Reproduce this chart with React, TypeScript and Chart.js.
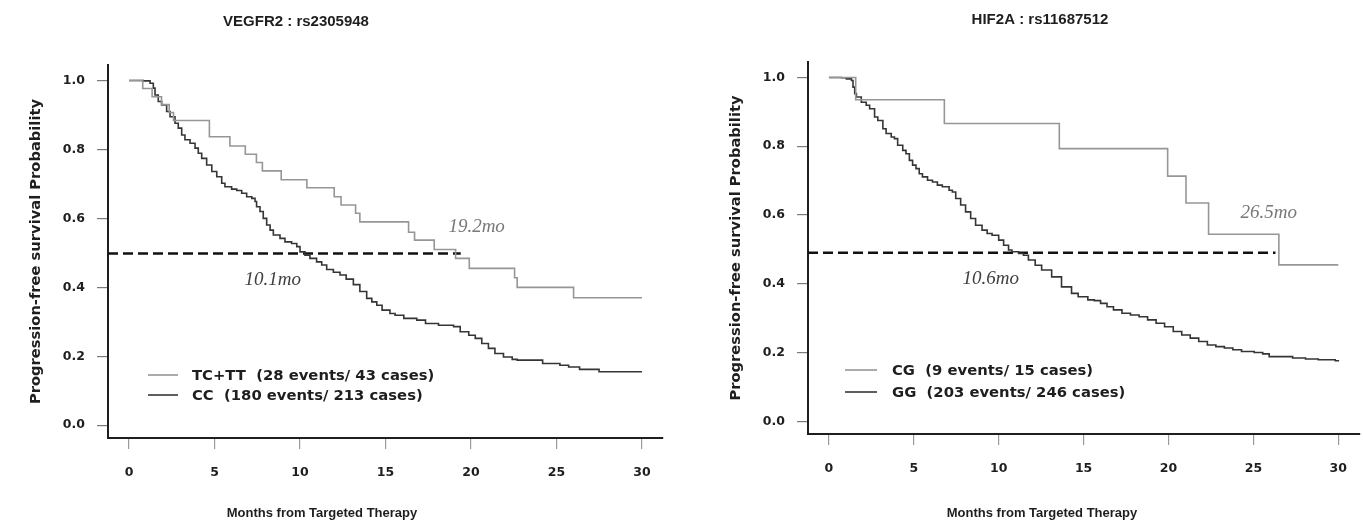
import React, { useEffect, useRef } from "react";
import { Chart, registerables } from "chart.js";

Chart.register(...registerables);

// ---------- shared axis settings ----------
const xMin = -1.23;
const xMax = 31.23;
const yMin = -0.037;
const yMax = 1.045;
const xTickStep = 5;
const yTickStep = 0.2;
const xAxisTitle = "Months from Targeted Therapy";
const yAxisTitle = "Progression-free survival Probability";

// ---------- left panel: VEGFR2 ----------
const leftTitle = "VEGFR2 : rs2305948";
const leftGrayLabel = "TC+TT  (28 events/ 43 cases)";
const leftGrayT = [0, 0.8, 1.35, 1.9, 2.35, 2.6, 4.7, 5.9, 6.8, 7.45, 7.8, 8.9, 10.4, 12.0, 12.4, 13.25, 13.5, 16.35, 16.7, 17.85, 19.1, 19.9, 22.55, 22.7, 26.0, 30.0];
const leftGrayS = [1, 0.977, 0.953, 0.93, 0.907, 0.884, 0.837, 0.81, 0.786, 0.762, 0.738, 0.712, 0.689, 0.663, 0.639, 0.615, 0.59, 0.56, 0.537, 0.51, 0.484, 0.455, 0.428, 0.4, 0.37, 0.37];
const leftDarkLabel = "CC  (180 events/ 213 cases)";
const leftDarkT = [0, 0.84, 1.23, 1.42, 1.52, 1.71, 1.91, 2.2, 2.4, 2.69, 2.88, 3.08, 3.27, 3.57, 3.86, 4.05, 4.25, 4.54, 4.84, 5.13, 5.42, 5.61, 6.0, 6.3, 6.59, 6.88, 7.18, 7.37, 7.46, 7.66, 7.85, 8.05, 8.25, 8.44, 8.83, 9.12, 9.51, 9.81, 10.0, 10.29, 10.58, 10.97, 11.27, 11.56, 11.95, 12.34, 12.7, 13.12, 13.5, 13.9, 14.2, 14.49, 14.8, 15.26, 15.56, 16.07, 16.83, 17.34, 18.1, 18.98, 19.37, 19.87, 20.25, 20.63, 21.02, 21.4, 21.9, 22.41, 22.7, 24.19, 25.2, 25.71, 26.35, 27.49, 30.0];
const leftDarkS = [1, 0.999, 0.992, 0.978, 0.958, 0.939, 0.929, 0.91, 0.895, 0.876, 0.862, 0.842, 0.828, 0.818, 0.804, 0.789, 0.774, 0.755, 0.736, 0.721, 0.702, 0.692, 0.685, 0.681, 0.673, 0.663, 0.658, 0.649, 0.634, 0.62, 0.6, 0.581, 0.566, 0.552, 0.542, 0.532, 0.527, 0.518, 0.503, 0.493, 0.484, 0.474, 0.465, 0.452, 0.444, 0.436, 0.424, 0.408, 0.388, 0.368, 0.358, 0.348, 0.334, 0.324, 0.319, 0.31, 0.305, 0.295, 0.29, 0.286, 0.271, 0.261, 0.252, 0.237, 0.223, 0.208, 0.198, 0.191, 0.189, 0.179, 0.174, 0.169, 0.162, 0.155, 0.155];
const leftMedianT = [xMin, 19.4];
const leftMedianS = [0.498, 0.498];
const leftNoteText = ["19.2mo", "10.1mo"];
const leftNoteT = [20.33, 8.4];
const leftNoteS = [0.575, 0.421];

// ---------- right panel: HIF2A ----------
const rightTitle = "HIF2A : rs11687512";
const rightGrayLabel = "CG  (9 events/ 15 cases)";
const rightGrayT = [0, 1.58, 6.8, 13.57, 19.95, 21.03, 22.36, 26.5, 30.0];
const rightGrayS = [1, 0.935, 0.866, 0.793, 0.713, 0.635, 0.544, 0.455, 0.455];
const rightDarkLabel = "GG  (203 events/ 246 cases)";
const rightDarkT = [0, 0.74, 1.03, 1.33, 1.42, 1.52, 1.62, 1.91, 2.2, 2.4, 2.69, 2.88, 3.18, 3.37, 3.67, 3.86, 4.05, 4.35, 4.54, 4.74, 4.93, 5.13, 5.32, 5.51, 5.81, 6.1, 6.39, 6.68, 7.08, 7.27, 7.47, 7.76, 8.05, 8.35, 8.64, 9.02, 9.32, 9.61, 10.0, 10.29, 10.58, 10.78, 11.17, 11.46, 11.75, 12.15, 12.53, 13.12, 13.7, 14.29, 14.68, 15.25, 15.63, 16.0, 16.38, 16.76, 17.26, 17.76, 18.27, 18.77, 19.27, 19.77, 20.28, 20.78, 21.28, 21.78, 22.29, 22.79, 23.29, 23.79, 24.3, 25.05, 25.55, 25.93, 27.31, 28.07, 28.82, 29.82, 30.0];
const rightDarkS = [1, 0.999, 0.996, 0.991, 0.972, 0.953, 0.943, 0.928, 0.919, 0.909, 0.885, 0.875, 0.851, 0.837, 0.827, 0.822, 0.803, 0.788, 0.778, 0.759, 0.745, 0.735, 0.72, 0.711, 0.701, 0.696, 0.687, 0.682, 0.672, 0.667, 0.648, 0.629, 0.609, 0.59, 0.57, 0.556, 0.546, 0.541, 0.527, 0.512, 0.498, 0.493, 0.488, 0.483, 0.469, 0.454, 0.44, 0.42, 0.391, 0.372, 0.362, 0.353, 0.351, 0.343, 0.333, 0.324, 0.314, 0.309, 0.304, 0.295, 0.285, 0.275, 0.261, 0.251, 0.242, 0.232, 0.222, 0.217, 0.213, 0.208, 0.203, 0.2, 0.196, 0.188, 0.184, 0.181, 0.179, 0.176, 0.174];
const rightMedianT = [xMin, 26.3];
const rightMedianS = [0.49, 0.49];
const rightNoteText = ["26.5mo", "10.6mo"];
const rightNoteT = [25.9, 9.53];
const rightNoteS = [0.607, 0.414];

const GRAY = "#969696";
const DARK = "#353535";
const INK = "#1e1e1e";
const SANS = "'DejaVu Sans', Verdana, sans-serif";
const ARIAL = "'Liberation Sans', Arial, sans-serif";
const SERIF = "'Liberation Serif', 'Times New Roman', serif";

const zip = (t: number[], s: number[]) => t.map((x, i) => ({ x, y: s[i] }));

type PanelCfg = {
  title: string;
  titleX: number;
  titleY: number;
  xTitleX: number;
  grayLabel: string;
  darkLabel: string;
  grayT: number[];
  grayS: number[];
  darkT: number[];
  darkS: number[];
  medT: number[];
  medS: number[];
  noteText: string[];
  noteT: number[];
  noteS: number[];
  noteColors: string[];
  padLeft: number;
  padRight: number;
  padTop: number;
  yWidth: number;
  xHeight: number;
  legendLine: [number, number];
  legendTextDx: number;
  legendRows: [number, number];
};

const decorPlugin = {
  id: "kmDecor",
  afterDraw(chart: any, _args: any, opts: any) {
    const ctx = chart.ctx;
    const ca = chart.chartArea;
    const xs = chart.scales.x;
    const ys = chart.scales.y;
    const cfg: PanelCfg = opts.cfg;
    ctx.save();
    // title
    ctx.fillStyle = INK;
    ctx.textAlign = "center";
    ctx.textBaseline = "middle";
    ctx.font = `bold 15px ${ARIAL}`;
    ctx.fillText(cfg.title, cfg.titleX, cfg.titleY);
    // x axis title
    ctx.font = `bold 13px ${ARIAL}`;
    ctx.fillText(xAxisTitle, cfg.xTitleX, 513);
    // legend
    const labels = [cfg.grayLabel, cfg.darkLabel];
    const colors = [GRAY, DARK];
    ctx.font = `bold 14.8px ${SANS}`;
    ctx.textAlign = "left";
    labels.forEach((lab, i) => {
      const y = ca.bottom - cfg.legendRows[i];
      ctx.strokeStyle = colors[i];
      ctx.lineWidth = 1.6;
      ctx.beginPath();
      ctx.moveTo(ca.left + cfg.legendLine[0], y);
      ctx.lineTo(ca.left + cfg.legendLine[1], y);
      ctx.stroke();
      ctx.fillStyle = INK;
      ctx.fillText(lab, ca.left + cfg.legendTextDx, y + 1);
    });
    // median annotations
    ctx.font = `italic 19px ${SERIF}`;
    ctx.textAlign = "center";
    cfg.noteText.forEach((txt, i) => {
      ctx.fillStyle = cfg.noteColors[i];
      ctx.fillText(txt, xs.getPixelForValue(cfg.noteT[i]), ys.getPixelForValue(cfg.noteS[i]));
    });
    ctx.restore();
  },
};

function makeConfig(cfg: PanelCfg): any {
  return {
    type: "line",
    data: {
      datasets: [
        {
          label: cfg.grayLabel,
          data: zip(cfg.grayT, cfg.grayS),
          borderColor: GRAY,
          borderWidth: 1.6,
          pointRadius: 0,
          stepped: true,
          fill: false,
        },
        {
          label: cfg.darkLabel,
          data: zip(cfg.darkT, cfg.darkS),
          borderColor: DARK,
          borderWidth: 1.6,
          pointRadius: 0,
          stepped: true,
          fill: false,
        },
        {
          label: "median",
          data: zip(cfg.medT, cfg.medS),
          borderColor: "#111111",
          borderWidth: 2.6,
          borderDash: [10, 5],
          pointRadius: 0,
          fill: false,
        },
      ],
    },
    options: {
      animation: false,
      responsive: false,
      devicePixelRatio: 1,
      layout: { padding: { left: cfg.padLeft, right: cfg.padRight, top: cfg.padTop, bottom: 0 } },
      plugins: {
        legend: { display: false },
        tooltip: { enabled: false },
        title: { display: false },
        kmDecor: { cfg },
      },
      scales: {
        x: {
          type: "linear",
          min: xMin,
          max: xMax,
          afterFit: (s: any) => {
            s.height = cfg.xHeight;
          },
          ticks: {
            stepSize: xTickStep,
            includeBounds: false,
            color: INK,
            padding: 16,
            font: { family: SANS, size: 12.5, weight: "bold" },
            callback: (v: number) => String(Math.round(v)),
            maxRotation: 0,
          },
          grid: {
            display: true,
            drawOnChartArea: false,
            drawTicks: true,
            tickLength: 11,
            color: "#9a9a9a",
            lineWidth: 1.2,
          },
          border: { display: true, color: INK, width: 2 },
          title: { display: false },
        },
        y: {
          type: "linear",
          min: yMin,
          max: yMax,
          afterFit: (s: any) => {
            s.width = cfg.yWidth;
          },
          ticks: {
            stepSize: yTickStep,
            includeBounds: false,
            color: INK,
            padding: 12,
            font: { family: SANS, size: 12.5, weight: "bold" },
            callback: (v: number) => v.toFixed(1),
          },
          grid: {
            display: true,
            drawOnChartArea: false,
            drawTicks: true,
            tickLength: 11,
            color: "#7a7a7a",
            lineWidth: 1.2,
          },
          border: { display: true, color: INK, width: 2 },
          title: {
            display: true,
            text: yAxisTitle,
            color: INK,
            padding: { top: 0, bottom: 0 },
            font: { family: SANS, size: 14.7, weight: "bold" },
          },
        },
      },
    },
    plugins: [decorPlugin],
  };
}

const leftCfg: PanelCfg = {
  title: leftTitle,
  titleX: 296,
  titleY: 22,
  xTitleX: 322,
  grayLabel: leftGrayLabel,
  darkLabel: leftDarkLabel,
  grayT: leftGrayT,
  grayS: leftGrayS,
  darkT: leftDarkT,
  darkS: leftDarkS,
  medT: leftMedianT,
  medS: leftMedianS,
  noteText: leftNoteText,
  noteT: leftNoteT,
  noteS: leftNoteS,
  noteColors: ["#787878", "#404040"],
  padLeft: 27,
  padRight: 27,
  padTop: 65,
  yWidth: 81,
  xHeight: 85,
  legendLine: [40, 70],
  legendTextDx: 84,
  legendRows: [63, 43],
};

const rightCfg: PanelCfg = {
  title: rightTitle,
  titleX: 1040 - 690,
  titleY: 20,
  xTitleX: 1042 - 690,
  grayLabel: rightGrayLabel,
  darkLabel: rightDarkLabel,
  grayT: rightGrayT,
  grayS: rightGrayS,
  darkT: rightDarkT,
  darkS: rightDarkS,
  medT: rightMedianT,
  medS: rightMedianS,
  noteText: rightNoteText,
  noteT: rightNoteT,
  noteS: rightNoteS,
  noteColors: ["#787878", "#404040"],
  padLeft: 37,
  padRight: 0,
  padTop: 62,
  yWidth: 81,
  xHeight: 89,
  legendLine: [37, 69],
  legendTextDx: 84,
  legendRows: [64, 42],
};

function Panel({ cfg, left, width }: { cfg: PanelCfg; left: number; width: number }) {
  const ref = useRef<HTMLCanvasElement | null>(null);
  useEffect(() => {
    if (!ref.current) return;
    const chart = new Chart(ref.current, makeConfig(cfg));
    return () => chart.destroy();
  }, [cfg]);
  return (
    <canvas
      ref={ref}
      width={width}
      height={523}
      style={{ position: "absolute", left, top: 0, width, height: 523 }}
    />
  );
}

export default function App() {
  return (
    <div style={{ position: "absolute", left: 0, top: 0, width: 1363, height: 523, background: "#ffffff", overflow: "hidden" }}>
      <Panel cfg={leftCfg} left={0} width={690} />
      <Panel cfg={rightCfg} left={690} width={673} />
    </div>
  );
}
